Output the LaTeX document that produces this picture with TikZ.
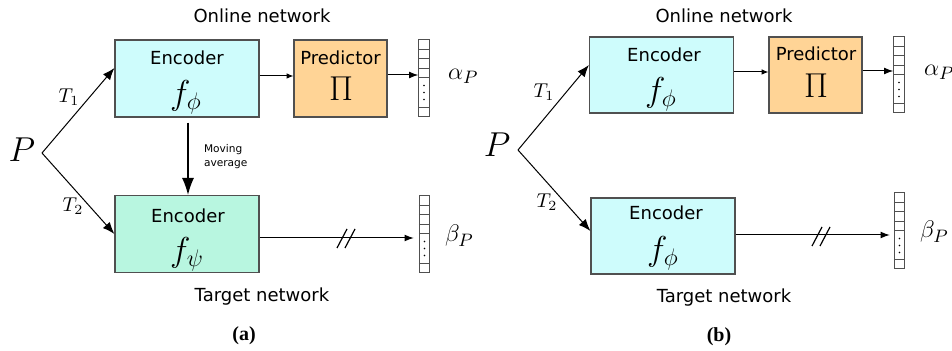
\documentclass[tikz,border=0pt]{standalone}
\usepackage[no-math]{fontspec}
\usepackage{amsmath}
\usetikzlibrary{arrows.meta,calc}
\newfontfamily\labfont{DejaVu Sans}
\newfontfamily\capfont{Liberation Serif}
\definecolor{onlinecyan}{RGB}{206,252,252}
\definecolor{targetmint}{RGB}{184,246,224}
\definecolor{predorange}{RGB}{255,212,150}
\definecolor{boxgray}{RGB}{80,80,80}
% cells of an output vector (node name)
\newcommand{\vcells}[1]{%
  \foreach \k in {1,...,4}
    \draw[boxgray, line width=0.4pt] ($(#1.north west)+(0,\k*9.6)$) -- ++(10.5,0);
  \draw[boxgray, line width=0.4pt] ($(#1.south west)+(0,-9.6)$) -- ++(10.5,0);
  \foreach \d in {46,53,60}
    \fill ($(#1.north)+(0,\d)$) circle (0.45pt);
}

\tikzset{
  netbox/.style={draw=boxgray, line width=0.6pt, minimum width=72pt, minimum height=38.5pt, inner sep=0pt},
  vecbox/.style={draw=boxgray, line width=0.5pt, fill=white, minimum width=5.2pt, minimum height=38.5pt, inner sep=0pt},
  labeltext/.style={font=\labfont\fontsize{9}{10}\selectfont},
  bigarrow/.style={-{Latex[length=6pt,width=4.6pt]}, line width=0.5pt},
  smallarrow/.style={-{Latex[length=3.4pt,width=2.8pt]}, line width=0.5pt},
  midarrow/.style={-{Latex[length=4.6pt,width=3.4pt]}, line width=0.5pt},
  tlabel/.style={font=\fontsize{10}{10}\selectfont},
}

\begin{document}
\begin{tikzpicture}[x=0.5pt, y=-0.5pt]
  \useasboundingbox (0,0) rectangle (952,351);

  % Diagram (a) -- online / target with moving average
  \node[labeltext] (onlA) at (262,16) {Online network};
  \node[netbox, fill=onlinecyan] (encA) at (187,78.5) {};
  \node[labeltext] (encAt) at (187,57.5) {Encoder};
  \node[font=\fontsize{17}{17}\selectfont] (encAf) at (186,97) {$f_\phi$};
  \node[netbox, fill=predorange, minimum width=46.5pt] (predA) at (340.5,78.5) {};
  \node[labeltext] (predAt) at (340.5,57.5) {Predictor};
  \node[font=\fontsize{17}{17}\selectfont] (predAf) at (341,89) {$\Pi$};
  \node[vecbox] (vecA) at (424,78.5) {};
  \vcells{vecA}
  \node[anchor=west, font=\fontsize{13}{13}\selectfont] (alphaA) at (441,76) {$\alpha_P$};

  \node[font=\fontsize{16}{16}\selectfont] (pA) at (22,150) {$P$};
  \coordinate (splitA) at (42,153);
  \node[netbox, fill=targetmint] (tgtA) at (187,234) {};
  \node[labeltext] (tgtAt) at (188,216) {Encoder};
  \node[font=\fontsize{17}{17}\selectfont] (tgtAf) at (187,254) {$f_\psi$};
  \node[vecbox] (vecB) at (424.5,234.5) {};
  \vcells{vecB}
  \node[anchor=west, font=\fontsize{13}{13}\selectfont] (betaA) at (438,236) {$\beta_P$};
  \node[labeltext] (tgtnA) at (262,297) {Target network};
  \node[font=\capfont\bfseries\fontsize{10}{10}\selectfont] (capA) at (244,336) {(a)};

  \draw[bigarrow] (splitA) -- (encA.west |- 0,68);
  \draw[bigarrow] (splitA) -- (tgtA.west |- 0,234);
  \node[tlabel] (t1A) at (69,97) {$T_1$};
  \node[tlabel] (t2A) at (73,206) {$T_2$};
  \draw[smallarrow] (encA.east |- 0,76) -- (predA.west |- 0,76);
  \draw[midarrow] (predA.east |- 0,75) -- (vecA.west |- 0,75);
  \draw[-{Latex[length=8.5pt,width=6pt]}, line width=0.6pt] ($(encA.south)+(1,5)$) -- (tgtA.north -| 188,0);
  \node[anchor=west, align=left, font=\labfont\fontsize{5.3}{7}\selectfont] (movA) at (197,157) {Moving\\average};
  \draw[midarrow] (tgtA.east |- 0,238) -- ($(vecB.west |- 0,238)+(-5,0)$);
  \draw[line width=0.6pt] (337,248) -- (347,229) (345,248) -- (355,229);

  % Diagram (b) -- shared encoder
  \node[labeltext] (onlB) at (724,16) {Online network};
  \node[netbox, fill=onlinecyan, minimum height=38pt] (encB) at (661.5,75) {};
  \node[labeltext] (encBt) at (664,54.5) {Encoder};
  \node[font=\fontsize{17}{17}\selectfont] (encBf) at (661,94) {$f_\phi$};
  \node[netbox, fill=predorange, minimum width=46.5pt, minimum height=38pt] (predB) at (815.5,75) {};
  \node[labeltext] (predBt) at (816,54) {Predictor};
  \node[font=\fontsize{17}{17}\selectfont] (predBf) at (816,86) {$\Pi$};
  \node[vecbox, minimum height=38pt] (vecC) at (899,75) {};
  \vcells{vecC}
  \node[anchor=west, font=\fontsize{13}{13}\selectfont] (alphaB) at (917,72) {$\alpha_P$};

  \node[font=\fontsize{16}{16}\selectfont] (pB) at (497,145) {$P$};
  \coordinate (splitB) at (518,150);
  \node[netbox, fill=onlinecyan, minimum height=38pt] (tgtB) at (663,236) {};
  \node[labeltext] (tgtBt) at (666,213) {Encoder};
  \node[font=\fontsize{17}{17}\selectfont] (tgtBf) at (663,253) {$f_\phi$};
  \node[vecbox, minimum height=38pt] (vecD) at (899.5,231) {};
  \vcells{vecD}
  \node[anchor=west, font=\fontsize{13}{13}\selectfont] (betaB) at (913,232) {$\beta_P$};
  \node[labeltext] (tgtnB) at (724,298) {Target network};
  \node[font=\capfont\bfseries\fontsize{10}{10}\selectfont] (capB) at (719,337) {(b)};

  \draw[bigarrow] (splitB) -- (encB.west |- 0,65);
  \draw[bigarrow] (splitB) -- (tgtB.west |- 0,231);
  \node[tlabel] (t1B) at (544,92) {$T_1$};
  \node[tlabel] (t2B) at (547,202) {$T_2$};
  \draw[smallarrow] (encB.east |- 0,72) -- (predB.west |- 0,72);
  \draw[midarrow] (predB.east |- 0,71) -- (vecC.west |- 0,71);
  \draw[midarrow] (tgtB.east |- 0,235) -- ($(vecD.west |- 0,235)+(-4,0)$);
  \draw[line width=0.6pt] (812,246) -- (822,227) (820,246) -- (830,227);
\end{tikzpicture}
\end{document}
